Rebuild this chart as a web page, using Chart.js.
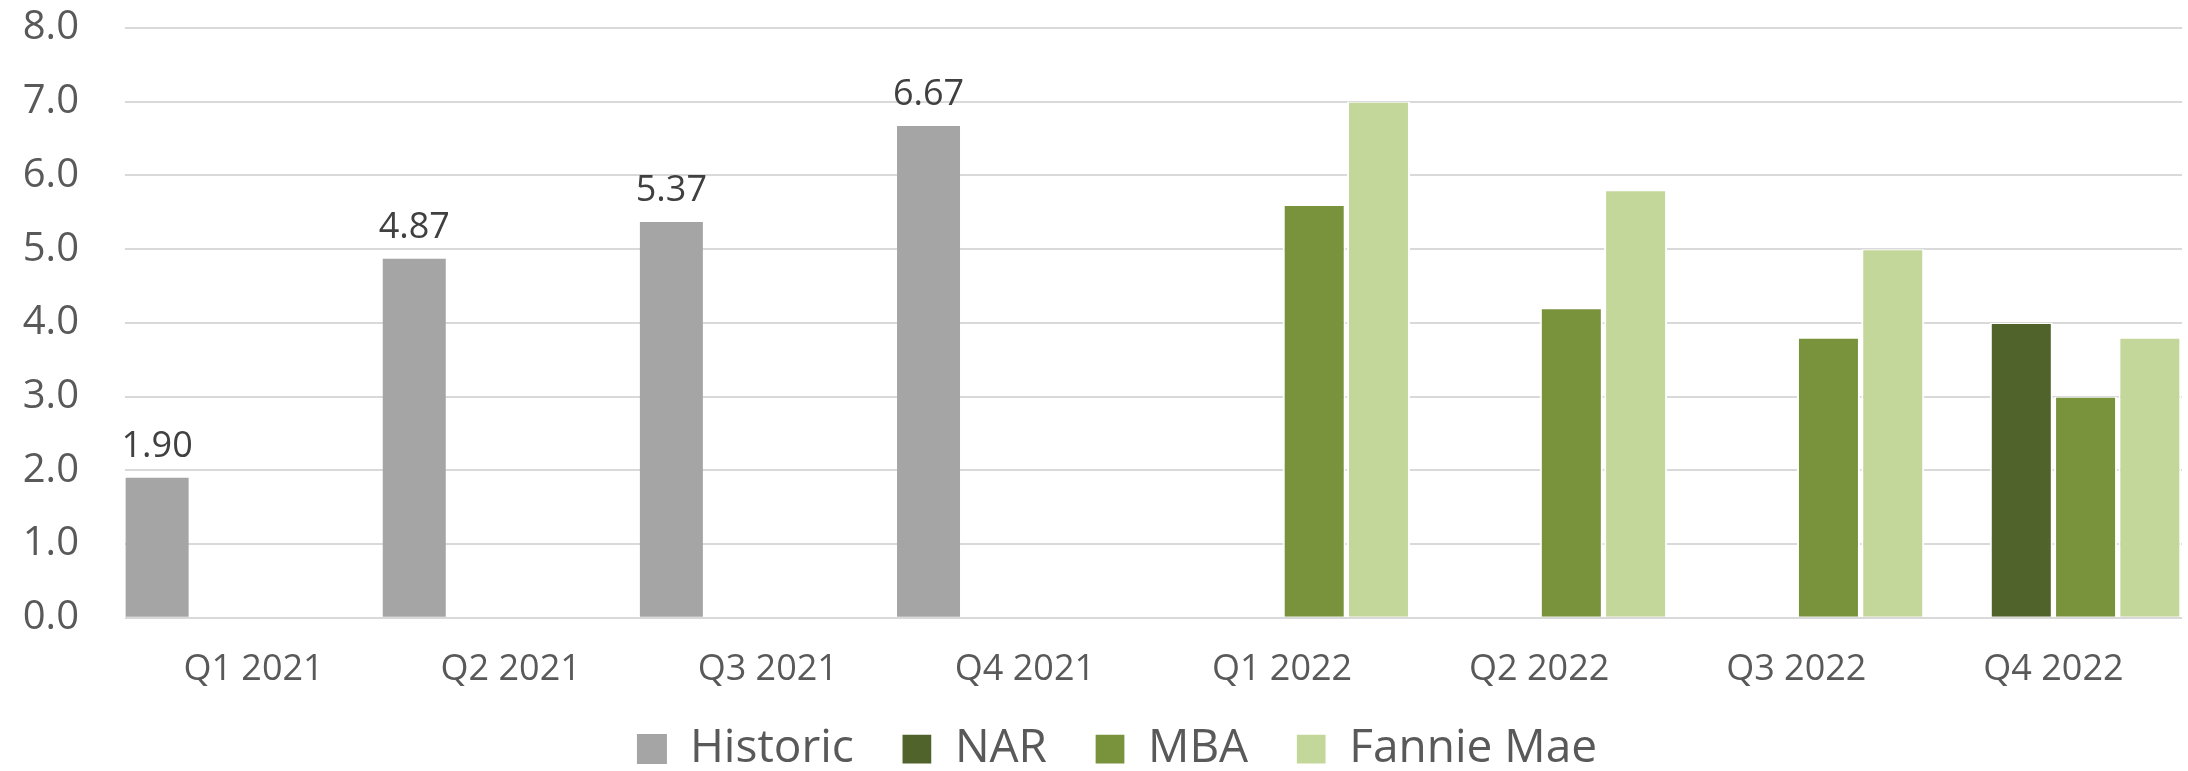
<!DOCTYPE html>
<html>
<head>
<meta charset="utf-8">
<script src="https://cdn.jsdelivr.net/npm/chart.js@4.4.1/dist/chart.umd.min.js"></script>
<style>
  html, body { margin: 0; padding: 0; background: #fff; overflow: hidden; }
  #wrap { width: 2188px; height: 795px; }
</style>
</head>
<body>
<div id="wrap"><canvas id="grafica"></canvas></div>
<script>
// datos
var trimestres = ['Q1 2021', 'Q2 2021', 'Q3 2021', 'Q4 2021', 'Q1 2022', 'Q2 2022', 'Q3 2022', 'Q4 2022'];
var historic = [1.90, 4.87, 5.37, 6.67, null, null, null, null];
var nar = [null, null, null, null, null, null, null, 4.0];
var mba = [null, null, null, null, 5.6, 4.2, 3.8, 3.0];
var fannieMae = [null, null, null, null, 7.0, 5.8, 5.0, 3.8];
var yTicks = [0, 1, 2, 3, 4, 5, 6, 7, 8];

var fuente = "'Open Sans', 'Noto Sans', sans-serif";
var bordeVerde = { left: 2, right: 2, top: 1, bottom: 0 };

// etiquetas de valor solo para la serie historica
var etiquetas = {
  id: 'etiquetas',
  afterDatasetsDraw: function(chart) {
    var ctx = chart.ctx;
    var meta = chart.getDatasetMeta(0);
    ctx.save();
    ctx.font = '36px ' + fuente;
    ctx.fillStyle = '#404040';
    ctx.textAlign = 'center';
    ctx.textBaseline = 'alphabetic';
    meta.data.forEach(function(bar, i) {
      var v = historic[i];
      if (v === null) return;
      ctx.fillText(v.toFixed(2), bar.x, bar.y - 21);
    });
    ctx.restore();
  }
};

// acomoda la leyenda como en el original
var moverLeyenda = {
  id: 'moverLeyenda',
  afterLayout: function(chart) {
    if (!chart.legend) return;
    chart.legend.top -= 13;
    chart.legend.bottom -= 13;
    chart.legend.left += 16;
    chart.legend.right += 16;
  }
};

var myChart = new Chart(document.getElementById('grafica'), {
  type: 'bar',
  data: {
    labels: trimestres,
    datasets: [
      { label: 'Historic', data: historic, backgroundColor: '#A5A5A5', borderWidth: 0 },
      { label: 'NAR', data: nar, backgroundColor: '#50632A', borderColor: '#ffffff', borderWidth: bordeVerde },
      { label: 'MBA', data: mba, backgroundColor: '#78933C', borderColor: '#ffffff', borderWidth: bordeVerde },
      { label: 'Fannie Mae', data: fannieMae, backgroundColor: '#C4D79B', borderColor: '#ffffff', borderWidth: bordeVerde }
    ]
  },
  plugins: [etiquetas, moverLeyenda],
  options: {
    responsive: true,
    maintainAspectRatio: false,
    animation: false,
    devicePixelRatio: 1,
    layout: { padding: { left: 20, right: 6, top: 28, bottom: 0 } },
    datasets: { bar: { categoryPercentage: 1.0, barPercentage: 0.98 } },
    scales: {
      x: {
        grid: { display: false, drawTicks: true, tickLength: 30, tickColor: 'rgba(0,0,0,0)' },
        border: { display: false },
        ticks: { color: '#595959', font: { family: fuente, size: 36 }, padding: 0, maxRotation: 0 }
      },
      y: {
        min: 0,
        max: 8,
        afterBuildTicks: function(scale) { scale.ticks = yTicks.map(function(v) { return { value: v }; }); },
        grid: { color: '#D9D9D9', lineWidth: 2, drawTicks: true, tickLength: 46, tickColor: 'rgba(0,0,0,0)' },
        border: { display: false },
        ticks: {
          color: '#595959',
          font: { family: fuente, size: 40 },
          padding: 0,
          callback: function(v) { return Number(v).toFixed(1); }
        },
        afterFit: function(scale) { scale.width = 105; }
      }
    },
    plugins: {
      tooltip: { enabled: false },
      legend: {
        position: 'bottom',
        labels: {
          color: '#595959',
          font: { family: fuente, size: 46 },
          boxWidth: 30,
          boxHeight: 30,
          padding: 48
        }
      }
    }
  }
});
</script>
</body>
</html>
